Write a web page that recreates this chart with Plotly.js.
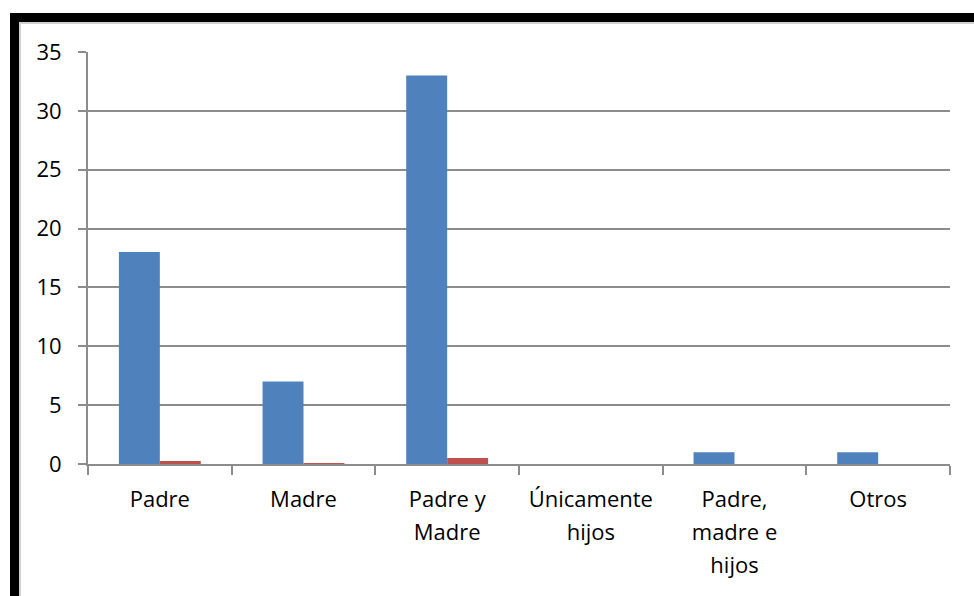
<!DOCTYPE html>
<html>
<head>
<meta charset="utf-8">
<script src="https://cdn.plot.ly/plotly-3.0.1.min.js"></script>
<style>
html,body{margin:0;padding:0;background:#fff;}
#wrap{position:relative;width:974px;height:596px;overflow:hidden;}
#chart{width:974px;height:596px;}
#frame{position:absolute;left:10px;top:13px;width:980px;height:600px;border-left:9px solid #000;border-top:9px solid #000;pointer-events:none;box-sizing:border-box;}
#frame2{position:absolute;left:19px;top:22px;width:980px;height:600px;border-left:2px solid #d0d0d0;border-top:2px solid #d0d0d0;pointer-events:none;box-sizing:border-box;}
</style>
</head>
<body>
<div id="wrap">
<div id="chart"></div>
<div id="frame"></div>
<div id="frame2"></div>
</div>
<script>
const categories = ["Padre", "Madre", "Padre y<br>Madre", "Únicamente<br>hijos", "Padre,<br>madre e<br>hijos", "Otros"];
const serie1 = [18, 7, 33, 0, 1, 1];
const serie2 = [0.25, 0.08, 0.5, 0, 0, 0];
const yTicks = [0, 5, 10, 15, 20, 25, 30, 35];

const font = {family: "'Open Sans', Lato, sans-serif", size: 22, color: "#000"};

Plotly.newPlot("chart", [
  {type: "bar", x: categories, y: serie1, marker: {color: "#4f81bd"}, name: "Serie1"},
  {type: "bar", x: categories, y: serie2, marker: {color: "#c0504d"}, name: "Serie2"}
], {
  width: 974, height: 596,
  margin: {l: 88, r: 24, t: 52, b: 132},
  paper_bgcolor: "#fff", plot_bgcolor: "#fff",
  showlegend: false,
  barmode: "group",
  bargap: 0.43, bargroupgap: 0,
  font: font,
  xaxis: {
    type: "category",
    tickson: "boundaries",
    ticks: "outside", ticklen: 9, tickwidth: 2, tickcolor: "#8c8c8c",
    showline: true, linecolor: "#8c8c8c", linewidth: 2,
    showgrid: false,
    tickangle: 0,
    tickfont: font,
    ticklabelstandoff: 15
  },
  yaxis: {
    range: [0, 35], tickvals: yTicks, ticktext: yTicks.map(String),
    ticks: "outside", ticklen: 8, tickwidth: 2, tickcolor: "#8c8c8c",
    showline: true, linecolor: "#8c8c8c", linewidth: 2,
    showgrid: true, gridcolor: "#8c8c8c", gridwidth: 2,
    zeroline: false,
    tickfont: font,
    ticklabelstandoff: 12
  }
}, {displayModeBar: false, staticPlot: true}).then(function(gd){
  gd.querySelectorAll(".xtick text tspan.line").forEach(function(t){
    var dy = parseFloat(t.getAttribute("dy") || "0");
    if (dy > 0) t.setAttribute("dy", (dy * 1.5 / 1.3).toFixed(3) + "em");
  });
});
</script>
</body>
</html>
